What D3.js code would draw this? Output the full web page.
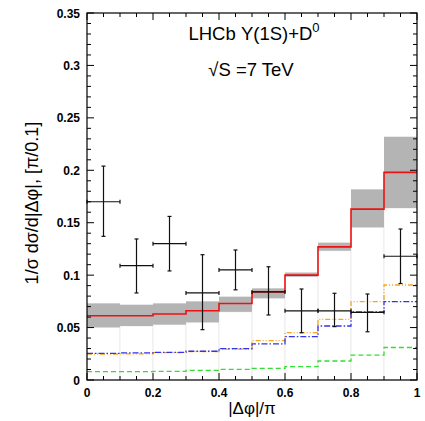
<!DOCTYPE html>
<html>
<head>
<meta charset="utf-8">
<script src="https://cdn.jsdelivr.net/npm/d3@7"></script>
<style>
  body { margin: 0; background: #fff; }
  text { font-family: "Liberation Sans", Arial, sans-serif; }
</style>
</head>
<body>
<svg width="425" height="421"></svg>
<script>
// bin edges of |dphi|/pi
var edges = [0, 0.1, 0.2, 0.3, 0.4, 0.5, 0.6, 0.7, 0.8, 0.9, 1.0];

// theory: central (red) and uncertainty band (grey)
var central  = [0.0613, 0.0613, 0.0629, 0.066, 0.073, 0.084, 0.100, 0.127, 0.163, 0.198];
var bandLow  = [0.0502, 0.0515, 0.0528, 0.055, 0.065, 0.078, 0.0985, 0.1233, 0.1456, 0.164];
var bandHigh = [0.0731, 0.0718, 0.0731, 0.075, 0.0795, 0.0874, 0.1025, 0.131, 0.1818, 0.232];

// other components
var orange = [0.0248, 0.025, 0.0262, 0.0272, 0.0295, 0.0375, 0.0451, 0.0579, 0.0747, 0.0906];
var blue   = [0.0254, 0.0258, 0.0264, 0.0274, 0.030, 0.0345, 0.0413, 0.0515, 0.065, 0.0747];
var green  = [0.008, 0.008, 0.0083, 0.0092, 0.0102, 0.0111, 0.0127, 0.0181, 0.0238, 0.031];

// LHCb data points
var dataX    = [0.05, 0.15, 0.25, 0.35, 0.45, 0.55, 0.65, 0.75, 0.85, 0.95];
var dataY    = [0.170, 0.109, 0.130, 0.083, 0.105, 0.084, 0.066, 0.066, 0.0645, 0.118];
var dataLow  = [0.137, 0.083, 0.104, 0.048, 0.086, 0.062, 0.0451, 0.0509, 0.046, 0.092];
var dataHigh = [0.204, 0.1345, 0.156, 0.1195, 0.124, 0.108, 0.0868, 0.0827, 0.082, 0.144];

var xTicks = [0, 0.2, 0.4, 0.6, 0.8, 1];
var yTicks = [0, 0.05, 0.1, 0.15, 0.2, 0.25, 0.3, 0.35];

var svg = d3.select("svg");
// plot frame (note: "top" is reserved on window, so prefix)
var pLeft = 87, pRight = 417, pTop = 13, pBottom = 380;

var x = d3.scaleLinear().domain([0, 1]).range([pLeft, pRight]);
var y = d3.scaleLinear().domain([0, 0.35]).range([pBottom, pTop]);

var bins = central.map(function(c, i) {
  return {x0: edges[i], x1: edges[i + 1], c: c, lo: bandLow[i], hi: bandHigh[i]};
});

// faint bar outlines under the band
svg.append("g").selectAll("rect")
  .data(bins).enter().append("rect")
  .attr("x", function(d) { return x(d.x0); })
  .attr("width", function(d) { return x(d.x1) - x(d.x0); })
  .attr("y", function(d) { return y(d.lo); })
  .attr("height", function(d) { return y(0) - y(d.lo); })
  .attr("fill", "#fff")
  .attr("stroke", "#ececec")
  .attr("stroke-width", 1);

// grey uncertainty band
svg.append("g").selectAll("rect")
  .data(bins).enter().append("rect")
  .attr("x", function(d) { return x(d.x0); })
  .attr("width", function(d) { return x(d.x1) - x(d.x0); })
  .attr("y", function(d) { return y(d.hi); })
  .attr("height", function(d) { return y(d.lo) - y(d.hi); })
  .attr("fill", "#b4b4b4");

// step lines
function stepPoints(vals) {
  var pts = vals.map(function(v, i) { return [edges[i], v]; });
  pts.push([edges[edges.length - 1], vals[vals.length - 1]]);
  return pts;
}
var step = d3.line()
  .x(function(d) { return x(d[0]); })
  .y(function(d) { return y(d[1]); })
  .curve(d3.curveStepAfter);

var series = [
  {vals: green, color: "#33dd33", dash: "5,3", w: 1.3},
  {vals: orange, color: "#f5a623", dash: "5,2,1,2,1,2", w: 1.3},
  {vals: blue, color: "#3333ee", dash: "6,2,1.5,2", w: 1.3},
  {vals: central, color: "#ee1111", dash: null, w: 1.6}
];
svg.append("g").selectAll("path")
  .data(series).enter().append("path")
  .attr("d", function(d) { return step(stepPoints(d.vals)); })
  .attr("fill", "none")
  .attr("stroke", function(d) { return d.color; })
  .attr("stroke-width", function(d) { return d.w; })
  .attr("stroke-dasharray", function(d) { return d.dash; });

// data points with error bars
var pts = dataX.map(function(v, i) {
  return {x: v, y: dataY[i], lo: dataLow[i], hi: dataHigh[i]};
});
var cap = 2;
var g = svg.append("g").attr("stroke", "#111").attr("stroke-width", 1.2);
pts.forEach(function(p) {
  var xl = x(p.x - 0.05), xr = x(p.x + 0.05), xc = x(p.x);
  g.append("line").attr("x1", xl).attr("x2", xr).attr("y1", y(p.y)).attr("y2", y(p.y));
  g.append("line").attr("x1", xc).attr("x2", xc).attr("y1", y(p.lo)).attr("y2", y(p.hi));
  g.append("line").attr("x1", xl).attr("x2", xl).attr("y1", y(p.y) - cap).attr("y2", y(p.y) + cap);
  g.append("line").attr("x1", xr).attr("x2", xr).attr("y1", y(p.y) - cap).attr("y2", y(p.y) + cap);
  g.append("line").attr("x1", xc - cap).attr("x2", xc + cap).attr("y1", y(p.lo)).attr("y2", y(p.lo));
  g.append("line").attr("x1", xc - cap).attr("x2", xc + cap).attr("y1", y(p.hi)).attr("y2", y(p.hi));
});

// axes: ticks inside on all four sides
var axG = svg.append("g").attr("stroke", "#000").attr("stroke-width", 1);
var xMinor = d3.range(0, 1.0001, 0.05);
var yMinor = d3.range(0, 0.3501, 0.01);
function isMajor(v, list) {
  return list.some(function(t) { return Math.abs(t - v) < 1e-6; });
}
xMinor.forEach(function(v) {
  var len = isMajor(v, xTicks) ? 7 : 4;
  axG.append("line").attr("x1", x(v)).attr("x2", x(v)).attr("y1", pBottom).attr("y2", pBottom - len);
  axG.append("line").attr("x1", x(v)).attr("x2", x(v)).attr("y1", pTop).attr("y2", pTop + len);
});
yMinor.forEach(function(v) {
  var len = isMajor(v, yTicks) ? 7 : 4;
  axG.append("line").attr("x1", pLeft).attr("x2", pLeft + len).attr("y1", y(v)).attr("y2", y(v));
  axG.append("line").attr("x1", pRight).attr("x2", pRight - len).attr("y1", y(v)).attr("y2", y(v));
});
svg.append("rect")
  .attr("x", pLeft).attr("y", pTop)
  .attr("width", pRight - pLeft).attr("height", pBottom - pTop)
  .attr("fill", "none").attr("stroke", "#000").attr("stroke-width", 1.2);

// tick labels
svg.append("g").selectAll("text")
  .data(xTicks).enter().append("text")
  .attr("x", function(d) { return x(d); })
  .attr("y", 397)
  .attr("text-anchor", "middle")
  .attr("font-size", 12).attr("font-weight", "bold")
  .text(function(d) { return d3.format("")(d); });

svg.append("g").selectAll("text")
  .data(yTicks).enter().append("text")
  .attr("x", 80)
  .attr("y", function(d) { return y(d) + 4.5; })
  .attr("text-anchor", "end")
  .attr("font-size", 12).attr("font-weight", "bold")
  .text(function(d) { return d3.format("")(d); });

// axis titles
svg.append("text")
  .attr("x", 252).attr("y", 414)
  .attr("text-anchor", "middle").attr("font-size", 17)
  .text("|Δφ|/π");

svg.append("text")
  .attr("transform", "translate(38,203) rotate(-90)")
  .attr("text-anchor", "middle").attr("font-size", 18)
  .text("1/σ dσ/d|Δφ|, [π/0.1]");

// annotations
var t1 = svg.append("text")
  .attr("x", 254).attr("y", 40)
  .attr("text-anchor", "middle").attr("font-size", 18.5);
t1.append("tspan").text("LHCb Υ(1S)+D");
t1.append("tspan").attr("dy", -8).attr("font-size", 13).text("0");

svg.append("text")
  .attr("x", 251).attr("y", 76)
  .attr("text-anchor", "middle").attr("font-size", 18.5)
  .text("√S =7 TeV");
</script>
</body>
</html>
